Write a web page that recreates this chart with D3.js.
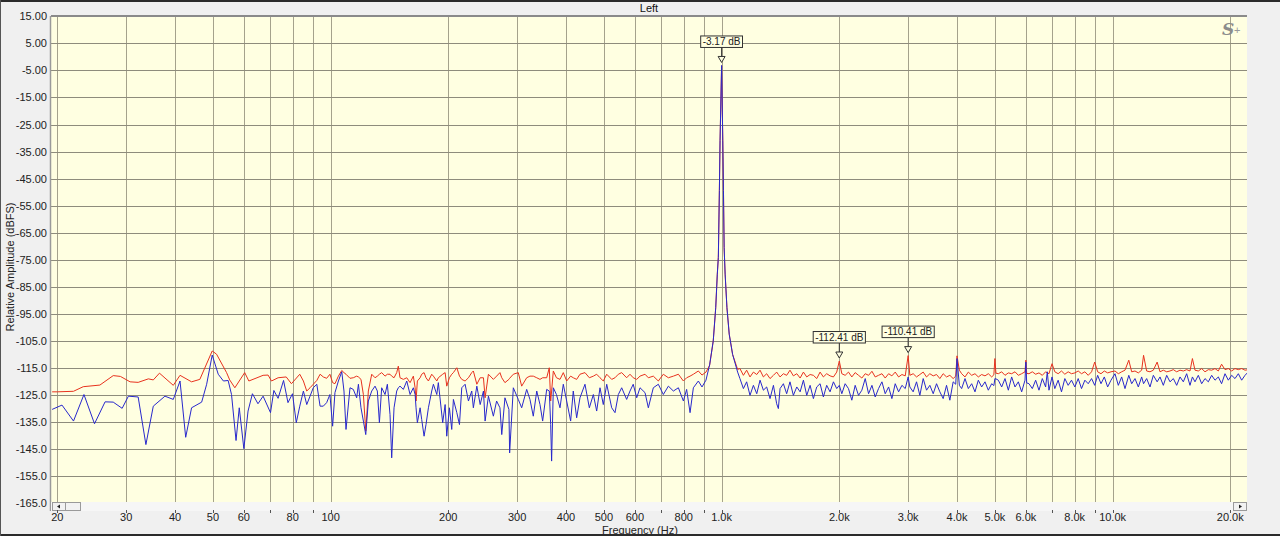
<!DOCTYPE html>
<html><head><meta charset="utf-8">
<script src="https://cdn.jsdelivr.net/npm/d3@7"></script>
<style>
body{margin:0;background:#f0f0f0;}
svg{display:block;font-family:"Liberation Sans",Arial,sans-serif;}
</style>
</head><body>
<svg id="c" width="1280" height="536"></svg>
<script>
// ---------- data ----------
const chartTitle = "Left";
const xTitle = "Frequency (Hz)";
const yTitle = "Relative Amplitude (dBFS)";
const yTickValues = [15,5,-5,-15,-25,-35,-45,-55,-65,-75,-85,-95,-105,-115,-125,-135,-145,-155,-165];
const gridHz = [20,30,40,50,60,70,80,90,100,200,300,400,500,600,700,800,900,1000,2000,3000,4000,5000,6000,7000,8000,9000,10000,20000];
const labelHz = [20,30,40,50,60,80,100,200,300,400,500,600,800,1000,2000,3000,4000,5000,6000,8000,10000,20000];
const labelText = ["20","30","40","50","60","80","100","200","300","400","500","600","800","1.0k","2.0k","3.0k","4.0k","5.0k","6.0k","8.0k","10.0k","20.0k"];
const minorHz = [70,90,700,900,7000,9000];

const markerHz = [1000,2000,3000];
const markerDb = [-3.17,-112.41,-110.41];
const markerText = ["-3.17 dB","-112.41 dB","-110.41 dB"];

// low-frequency bins (separate vertices per channel)
const lowRedHz = [19.4,20.0,22.0,23.3,25.7,27.8,29.0,30.7,32.2,34.2,35.2,36.5,39.6,41.2,44.1,46.3,49.8,51.1,54.2,55.2,56.9,60.3,61.8,67.2,69.2,70.6,73.4,77.0,79.4,83.4];
const lowRedDb = [-123.8,-123.8,-123.6,-121.9,-121.3,-117.8,-118.1,-120.1,-120.3,-119.0,-119.4,-116.9,-121.4,-117.7,-120.1,-119.2,-108.7,-109.9,-116.7,-119.4,-122.3,-116.7,-119.8,-117.7,-117.6,-119.8,-118.6,-118.3,-120.8,-117.3];
const lowBlueHz = [19.4,20.56,22.0,23.4,24.9,26.5,27.8,29.3,30.4,32.2,33.7,35.2,37.7,39.6,41.2,42.6,44.1,46.8,48.2,49.8,51.6,53.2,54.7,55.8,57.3,58.4,60.0,61.5,63.1,65.2,67.2,70.2,71.6,73.4,75.8,77.8,79.9,81.7,83.4];
const lowBlueDb = [-130.3,-128.7,-134.6,-124.8,-135.6,-127.5,-127.6,-129.9,-125.4,-125.7,-143.3,-129.1,-125.4,-126.6,-119.8,-140.6,-129.7,-127.6,-121.0,-110.2,-117.3,-119.8,-119.6,-124.8,-141.8,-129.7,-144.8,-130.9,-124.5,-128.2,-125.4,-131.5,-123.3,-126.2,-119.6,-127.8,-124.5,-135.2,-129.1];

// mid band 85 Hz .. 1.1 kHz (shared frequencies)
const midHz = [
85.2,86.9,88.6,90.3,92.2,94.0,95.8,97.7,99.6,101.2,
102.6,104.7,106.8,108.2,109.5,112.1,114.3,116.6,117.8,119.6,
121.3,123.0,124.9,127.4,129.9,131.7,133.3,135.1,137.8,139.7,
141.9,143.3,145.3,147.6,149.0,150.5,153.5,156.6,159.7,162.8,
164.5,165.4,166.7,169.4,171.0,173.4,175.4,177.9,181.4,183.2,
186.9,188.6,193.5,196.3,198.2,201.3,204.1,206.1,210.3,213.6,
216.5,220.8,225.2,229.6,231.8,236.6,241.3,246.0,248.4,253.3,
260.8,265.8,271.1,274.0,279.2,285.8,287.0,293.3,302.0,308.1,
317.3,323.5,329.9,336.7,343.2,348.6,357.0,362.5,365.5,367.5,
371.2,378.1,386.1,393.7,401.6,411.1,417.5,425.9,434.3,447.3,
458.9,469.9,479.2,488.7,498.2,508.4,523.5,533.8,544.4,555.2,
571.7,583.1,594.3,606.6,618.5,637.0,649.6,668.9,689.0,709.5,
730.9,752.8,775.3,798.5,813.9,830.5,846.8,872.1,891,912,
932,952,966,975,981,987,991,1000,1007,1011,
1015,1021,1032,1046,1067,1099];
const midRedDb = [
-119.8,-123.5,-122.3,-121.0,-119.6,-117.3,-118.3,-118.8,-117.3,-120.4,
-120.8,-118.0,-115.9,-116.7,-117.3,-118.8,-118.6,-118.0,-118.3,-119.2,
-124.8,-138.3,-123.5,-117.3,-118.6,-118.0,-117.3,-116.7,-118.0,-117.3,
-117.3,-118.0,-118.6,-116.7,-114.3,-118.6,-119.2,-118.6,-120.4,-118.0,
-122.3,-127.2,-119.8,-118.6,-117.3,-116.7,-118.6,-119.8,-117.3,-118.0,
-119.8,-118.6,-117.3,-116.7,-121.7,-118.6,-117.3,-116.7,-114.9,-118.0,
-119.2,-119.8,-118.6,-116.7,-116.1,-121.0,-118.6,-118.6,-126.0,-117.3,
-119.2,-118.0,-116.7,-118.6,-120.4,-119.2,-118.8,-117.3,-116.7,-121.7,
-118.6,-118.0,-118.0,-118.6,-119.2,-118.6,-118.6,-114.9,-127.2,-123.5,
-116.1,-118.6,-119.2,-116.7,-119.8,-118.0,-118.6,-119.2,-117.3,-116.7,
-118.6,-118.0,-117.3,-118.6,-119.8,-117.3,-119.2,-118.6,-117.3,-116.7,
-118.6,-117.3,-118.6,-119.2,-118.0,-117.3,-118.6,-118.0,-119.8,-117.3,
-118.6,-118.0,-117.3,-119.8,-118.6,-118.0,-117.3,-116.1,-117.6,-116.5,
-114.0,-105.0,-92.7,-80.3,-74.1,-49.4,-31.0,-3.3,-31.0,-49.4,
-70.4,-80.3,-92.7,-102.5,-110.0,-115.5];
const midBlueDb = [
-123.5,-128.5,-125.4,-122.3,-121.0,-129.1,-129.1,-127.8,-124.8,-136.5,
-124.1,-119.8,-116.4,-123.5,-137.7,-122.3,-122.9,-126.0,-121.0,-129.7,
-134.6,-139.6,-127.2,-123.5,-121.7,-123.5,-135.2,-122.3,-124.8,-121.0,
-132.2,-148.2,-129.7,-123.5,-122.3,-121.7,-122.9,-119.8,-124.8,-122.3,
-124.8,-129.7,-135.2,-129.7,-134.0,-140.2,-135.9,-129.7,-123.5,-121.0,
-124.8,-120.4,-135.2,-128.5,-140.2,-129.7,-137.7,-126.6,-131.5,-135.9,
-122.3,-121.0,-127.2,-123.5,-129.7,-121.7,-128.5,-123.5,-134.6,-125.4,
-132.8,-127.2,-129.7,-139.6,-126.0,-130.3,-146.4,-122.3,-126.6,-129.7,
-122.9,-126.6,-132.8,-123.5,-128.5,-134.6,-122.9,-123.5,-135.9,-149.4,
-122.3,-124.8,-129.7,-121.0,-127.2,-134.6,-123.5,-133.4,-126.0,-121.0,
-129.7,-124.8,-130.9,-122.3,-128.5,-121.0,-129.7,-131.5,-124.8,-122.3,
-126.6,-123.5,-121.0,-126.0,-122.3,-124.1,-129.7,-122.3,-121.0,-124.8,
-121.7,-123.5,-122.3,-127.2,-122.9,-131.5,-122.3,-119.8,-122.0,-119.5,
-113.8,-105.0,-92.7,-80.3,-74.1,-49.4,-31.0,-3.17,-31.0,-49.4,
-70.4,-80.3,-92.7,-102.5,-110.0,-116.5];

// high band 1.1 kHz .. 22 kHz (shared frequencies)
const highHz = [
1114,1137,1159,1182,1206,1230,1254,1279,1304,1330,
1357,1383,1397,1411,1439,1467,1496,1526,1557,1588,
1619,1651,1684,1717,1751,1786,1821,1857,1894,1932,
1970,2000,2030,2070,2111,2153,2196,2240,2284,2330,
2376,2424,2471,2520,2571,2621,2674,2726,2780,2836,
2892,2949,3000,3030,3090,3152,3214,3278,3343,3409,
3477,3546,3616,3687,3761,3835,3911,3970,4000,4056,
4111,4193,4276,4361,4447,4535,4625,4717,4810,4906,
4970,5000,5030,5102,5204,5307,5412,5519,5629,5740,
5854,5970,6000,6030,6112,6233,6356,6482,6611,6741,
6807,6875,7000,7116,7257,7401,7548,7698,7851,8007,
8166,8328,8494,8662,8835,9000,9157,9339,9524,9713,
9906,10142,10343,10548,10757,11000,11189,11410,11636,11867,
12000,12222,12465,12711,13000,13221,13482,13750,14022,14300,
14584,14873,15166,15468,15774,16000,16245,16567,16896,17231,
17572,17922,18277,18639,19000,19386,19770,20162,20561,20969,
21385,21809,22250];
const highRedDb = [
-115.2,-117.7,-115.8,-118.3,-116.5,-117.4,-115.8,-118.3,-117.1,-118.9,
-117.7,-116.5,-117.4,-118.3,-117.1,-117.7,-115.8,-117.9,-117.1,-118.7,
-116.5,-118.3,-117.4,-117.7,-118.9,-116.5,-118.3,-117.1,-117.9,-118.3,
-116.5,-112.41,-117.1,-117.7,-116.5,-118.3,-116.7,-117.7,-118.7,-117.1,
-117.7,-116.2,-118.3,-117.7,-117.1,-118.7,-117.1,-117.9,-116.5,-118.3,
-117.4,-117.9,-110.41,-117.7,-117.1,-118.3,-117.4,-116.5,-118.3,-117.1,
-117.9,-117.4,-118.9,-117.1,-118.3,-117.7,-118.9,-118.0,-110.5,-115.8,
-117.1,-118.3,-116.5,-117.7,-117.1,-118.3,-117.4,-117.9,-117.1,-118.3,
-117.5,-111.5,-116.9,-117.1,-116.4,-117.7,-116.8,-117.1,-116.4,-117.7,
-117.1,-116.4,-112.1,-117.0,-117.1,-116.4,-117.3,-116.8,-117.7,-116.4,
-116.8,-117.1,-113.4,-116.4,-117.1,-116.1,-117.3,-116.4,-117.1,-116.8,
-116.1,-117.1,-116.4,-117.7,-116.4,-112.8,-116.4,-117.1,-116.1,-116.8,
-116.4,-116.1,-117.1,-116.4,-115.8,-112.1,-116.4,-116.1,-116.8,-115.8,
-110.3,-116.1,-116.4,-115.8,-112.8,-116.4,-115.8,-116.4,-116.1,-115.6,
-116.4,-115.8,-116.1,-115.6,-116.1,-111.5,-115.8,-116.1,-115.2,-116.4,
-115.6,-115.8,-115.2,-116.1,-113.6,-115.6,-115.2,-116.1,-115.2,-115.6,
-115.2,-115.8,-115.6];
const highBlueDb = [
-118.9,-122.6,-120.1,-125.1,-121.4,-124.5,-119.5,-123.2,-122.0,-126.3,
-121.4,-128.2,-130.0,-122.6,-120.8,-124.5,-120.1,-125.1,-122.0,-123.8,
-119.5,-125.1,-121.4,-126.3,-122.0,-120.8,-125.7,-121.4,-123.8,-120.1,
-122.6,-121.4,-124.5,-120.8,-122.6,-126.9,-121.4,-125.1,-123.2,-118.9,
-124.5,-121.4,-125.7,-122.6,-120.1,-124.5,-122.0,-126.3,-120.8,-123.8,
-121.4,-122.6,-118.3,-122.0,-123.8,-120.1,-125.1,-118.9,-123.2,-121.4,
-124.5,-120.8,-123.8,-126.3,-121.4,-126.9,-120.1,-121.0,-111.5,-121.4,
-122.6,-118.9,-122.6,-120.8,-123.8,-119.5,-122.0,-120.1,-123.2,-120.8,
-121.5,-118.9,-119.0,-119.5,-122.0,-118.9,-123.2,-118.3,-122.0,-120.1,
-123.8,-119.5,-112.8,-120.5,-120.8,-122.6,-119.5,-123.2,-118.9,-122.0,
-116.4,-123.2,-118.3,-122.6,-119.5,-123.8,-118.9,-121.4,-119.5,-122.0,
-118.9,-122.6,-119.5,-120.8,-118.9,-121.4,-117.7,-120.8,-118.3,-122.0,
-119.5,-117.1,-121.4,-118.3,-122.6,-117.7,-120.8,-118.9,-122.0,-118.3,
-120.8,-118.9,-122.0,-117.7,-120.1,-118.3,-121.4,-117.7,-120.1,-118.9,
-121.4,-118.3,-120.1,-117.1,-121.4,-118.3,-120.1,-117.7,-120.8,-118.9,
-120.1,-117.7,-119.5,-118.3,-120.8,-117.1,-119.5,-117.7,-118.9,-117.1,
-119.5,-117.7,-116.4];

// ---------- build series ----------
function zip(hz, db){ const n=Math.min(hz.length, db.length); const out=[]; for(let i=0;i<n;i++) out.push([hz[i], db[i]]); return out; }
const redSeries = zip(lowRedHz, lowRedDb).concat(zip(midHz, midRedDb), zip(highHz, highRedDb));
const blueSeries = zip(lowBlueHz, lowBlueDb).concat(zip(midHz, midBlueDb), zip(highHz, highBlueDb));

// ---------- layout ----------
const W=1280, H=536;
const P = {l:51, r:1247, t:16, b:502};
const x = d3.scaleLog().domain([20,20000]).range([57.3,1230.3]);
const y = d3.scaleLinear().domain([-165,15]).range([503.3,16.3]);

const svg = d3.select("#c");
svg.append("rect").attr("width",W).attr("height",H).attr("fill","#f0f0f0");

// title
svg.append("text").attr("x",649).attr("y",12).attr("text-anchor","middle")
  .attr("font-size",11).attr("fill","#111").text(chartTitle);

// plot background
svg.append("rect").attr("x",P.l).attr("y",P.t).attr("width",P.r-P.l).attr("height",P.b-P.t).attr("fill","#ffffe1");

svg.append("defs").append("clipPath").attr("id","clip")
  .append("rect").attr("x",P.l).attr("y",P.t).attr("width",P.r-P.l).attr("height",P.b-P.t);

// grid
const grid = svg.append("g").attr("shape-rendering","crispEdges");
grid.selectAll("line.v").data(gridHz).join("line").attr("class","v")
  .attr("x1",d=>Math.round(x(d))+0.5).attr("x2",d=>Math.round(x(d))+0.5)
  .attr("y1",P.t).attr("y2",P.b).attr("stroke","#a5a28c").attr("stroke-width",1);
grid.selectAll("line.h").data(yTickValues.filter(v=>v<15)).join("line").attr("class","h")
  .attr("y1",d=>Math.round(y(d))+0.5).attr("y2",d=>Math.round(y(d))+0.5)
  .attr("x1",P.l).attr("x2",P.r).attr("stroke","#8e8c7c").attr("stroke-width",1);

// traces
const line = d3.line().x(d=>x(d[0])).y(d=>y(d[1]));
const traces = svg.append("g").attr("clip-path","url(#clip)");
traces.append("path").datum(redSeries).attr("d",line).attr("fill","none")
  .attr("stroke","#e8321e").attr("stroke-width",1).attr("stroke-linejoin","round");
traces.append("path").datum(blueSeries).attr("d",line).attr("fill","none")
  .attr("stroke","#2828cc").attr("stroke-width",1).attr("stroke-linejoin","round");

// plot borders
svg.append("line").attr("x1",P.l).attr("x2",P.r).attr("y1",P.t).attr("y2",P.t)
  .attr("stroke","#8a8a8a").attr("stroke-width",2);
svg.append("line").attr("x1",P.l-0.5).attr("x2",P.l-0.5).attr("y1",P.t).attr("y2",511)
  .attr("stroke","#9a9a9a").attr("stroke-width",1.5);

// markers
const mk = svg.append("g").selectAll("g").data(markerHz.map((f,i)=>({f, v:markerDb[i], t:markerText[i]}))).join("g");
mk.each(function(d){
  const g = d3.select(this);
  const px = x(d.f), py = y(d.v);
  const txt = g.append("text").attr("x",px).attr("y",py-20.5).attr("text-anchor","middle")
    .attr("font-size",10).attr("fill","#222").text(d.t);
  const w = txt.node().getComputedTextLength()+4;
  g.insert("rect","text").attr("x",px-w/2).attr("y",py-29.5).attr("width",w).attr("height",11.5)
    .attr("fill","#ffffe1").attr("stroke","#333").attr("stroke-width",1);
  g.append("line").attr("x1",px).attr("x2",px).attr("y1",py-18).attr("y2",py-9)
    .attr("stroke","#333").attr("stroke-width",1);
  g.append("path").attr("d",`M${px-3.5},${py-9}L${px+3.5},${py-9}L${px},${py-3}Z`)
    .attr("fill","#ffffe1").attr("stroke","#333").attr("stroke-width",1);
});

// logo
svg.append("text").attr("x",1222).attr("y",35).attr("font-family","'DejaVu Serif','Liberation Serif',serif")
  .attr("font-style","italic").attr("font-weight","bold").attr("font-size",17).attr("fill","#8c8c8c").text("S");
svg.append("text").attr("x",1234).attr("y",34).attr("font-size",11).attr("fill","#999").text("+");

// scroll strip
svg.append("rect").attr("x",P.l).attr("y",P.b).attr("width",P.r-P.l).attr("height",9).attr("fill","#f6f6f6");
svg.append("rect").attr("x",52.5).attr("y",502.5).attr("width",13).attr("height",8).attr("fill","#f2f2f2").attr("stroke","#9a9a9a");
svg.append("rect").attr("x",65.5).attr("y",502.5).attr("width",15).attr("height",8).attr("fill","#f2f2f2").attr("stroke","#9a9a9a");
svg.append("path").attr("d","M57,506.5L60,504.5L60,508.5Z").attr("fill","#222");
svg.append("rect").attr("x",1233.5).attr("y",502.5).attr("width",13).attr("height",8).attr("fill","#f2f2f2").attr("stroke","#9a9a9a");
svg.append("path").attr("d","M1242,506.5L1239,504.5L1239,508.5Z").attr("fill","#222");

// x ticks & labels
const ax = svg.append("g");
ax.selectAll("line.t").data(labelHz.concat(minorHz)).join("line").attr("class","t")
  .attr("x1",d=>Math.round(x(d))+0.5).attr("x2",d=>Math.round(x(d))+0.5)
  .attr("y1",510).attr("y2",512.5).attr("stroke","#555").attr("shape-rendering","crispEdges");
ax.selectAll("text").data(labelHz).join("text")
  .attr("x",d=>x(d)).attr("y",521).attr("text-anchor","middle")
  .attr("font-size",11).attr("fill","#222").text((d,i)=>labelText[i]);
svg.append("text").attr("x",640).attr("y",533.5).attr("text-anchor","middle")
  .attr("font-size",11).attr("fill","#222").text(xTitle);

// y labels
svg.append("g").selectAll("text").data(yTickValues).join("text")
  .attr("x",47).attr("y",d=>y(d)+4).attr("text-anchor","end")
  .attr("font-size",11).attr("fill","#222")
  .text(d=>Math.abs(d)>=100 ? d.toFixed(1) : d.toFixed(2));
svg.append("text").attr("transform","translate(14,267) rotate(-90)").attr("text-anchor","middle")
  .attr("font-size",11).attr("fill","#222").text(yTitle);

// frame (drawn last, on top)
svg.append("rect").attr("x",0).attr("y",0).attr("width",W).attr("height",2).attr("fill","#2b2b2b");
svg.append("rect").attr("x",0).attr("y",H-2).attr("width",W).attr("height",2).attr("fill","#2b2b2b");
svg.append("rect").attr("x",0).attr("y",0).attr("width",1).attr("height",H).attr("fill","#555");
</script>
</body></html>
